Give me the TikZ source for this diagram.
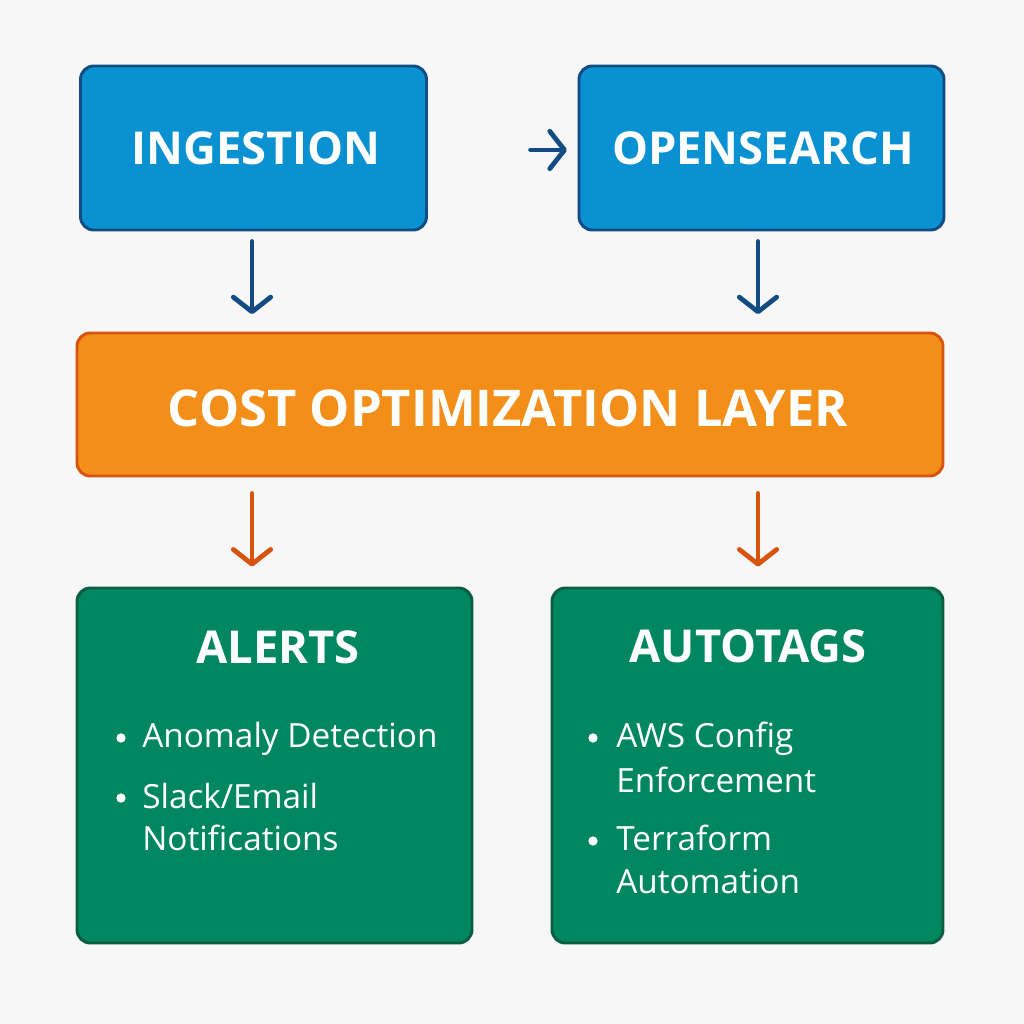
\documentclass[tikz,border=0pt]{standalone}
\usepackage{fontspec}
\setmainfont{Open Sans}
\usetikzlibrary{arrows.meta}
\definecolor{bg}{HTML}{F7F7F7}
\definecolor{bluefill}{HTML}{0A91D2}
\definecolor{blueline}{HTML}{124C82}
\definecolor{orfill}{HTML}{F38E18}
\definecolor{orline}{HTML}{D6540E}
\definecolor{grfill}{HTML}{00875F}
\definecolor{grline}{HTML}{0B5E41}
\tikzset{
  box/.style={draw, line width=2.2pt, rounded corners=10pt, inner sep=0pt},
  bluebox/.style={box, fill=bluefill, draw=blueline},
  orbox/.style={box, fill=orfill, draw=orline},
  grbox/.style={box, fill=grfill, draw=grline},
  head/.style={text=white, font=\bfseries\fontsize{34pt}{40pt}\selectfont, anchor=base},
  bighead/.style={head, font=\bfseries\fontsize{38pt}{44pt}\selectfont},
  body/.style={text=white, font=\fontsize{25pt}{29pt}\selectfont, anchor=base west, inner sep=0pt},
  bul/.style={fill=white, circle, inner sep=0pt, minimum size=7pt},
  tip/.style={-{Straight Barb[round, length=11pt, width=28pt, line width=3.6pt]}},
  bluearrow/.style={draw=blueline, line width=3.6pt, line cap=round, tip},
  orarrow/.style={draw=orline, line width=3.6pt, line cap=round, tip},
}
\begin{document}
\begin{tikzpicture}[x=0.75pt, y=-0.75pt]
\fill[bg] (0,0) rectangle (1024,1024);
\useasboundingbox (0,0) rectangle (1024,1024);
% boxes
\node[bluebox, minimum width=346*0.75pt, minimum height=164*0.75pt] (ing) at (253.5,148) {};
\node[bluebox, minimum width=365*0.75pt, minimum height=164*0.75pt] (os) at (761.5,148) {};
\node[orbox, minimum width=866*0.75pt, minimum height=143*0.75pt] (cost) at (510,404.5) {};
\node[grbox, minimum width=395*0.75pt, minimum height=355*0.75pt] (alerts) at (274.5,765.5) {};
\node[grbox, minimum width=391*0.75pt, minimum height=355*0.75pt] (autotags) at (747.5,765.5) {};
% titles
\node[head] (tIng) at (256,164) {INGESTION};
\node[head] (tOs) at (763,164) {OPENSEARCH};
\node[bighead] (tCost) at (508,426) {COST OPTIMIZATION LAYER};
\node[head] (tAl) at (278,663) {ALERTS};
\node[head] (tAu) at (748,662) {AUTOTAGS};
% alerts list
\node[bul] (b1) at (121,738) {};
\node[body] (l1) at (142,747) {Anomaly Detection};
\node[bul] (b2) at (121,798) {};
\node[body] (l2) at (142,808) {Slack/Email};
\node[body] (l3) at (142,850) {Notifications};
% autotags list
\node[bul] (b3) at (593,738) {};
\node[body] (m1) at (616,747) {AWS Config};
\node[body] (m2) at (616,792) {Enforcement};
\node[bul] (b4) at (593,841) {};
\node[body] (m3) at (616,850) {Terraform};
\node[body] (m4) at (616,893) {Automation};
% arrows
\draw[bluearrow, shorten <=77pt, shorten >=8pt] (ing.east |- 0,150) -- (os.west |- 0,150);
\draw[bluearrow, shorten <=7.5pt, shorten >=13pt] (ing.south -| 252,0) -- (cost.north -| 252,0);
\draw[bluearrow, shorten <=7.5pt, shorten >=13pt] (os.south -| 758,0) -- (cost.north -| 758,0);
\draw[orarrow, shorten <=12pt, shorten >=15pt] (cost.south -| 252,0) -- (alerts.north -| 252,0);
\draw[orarrow, shorten <=12pt, shorten >=15pt] (cost.south -| 758,0) -- (autotags.north -| 758,0);
\end{tikzpicture}
\end{document}
